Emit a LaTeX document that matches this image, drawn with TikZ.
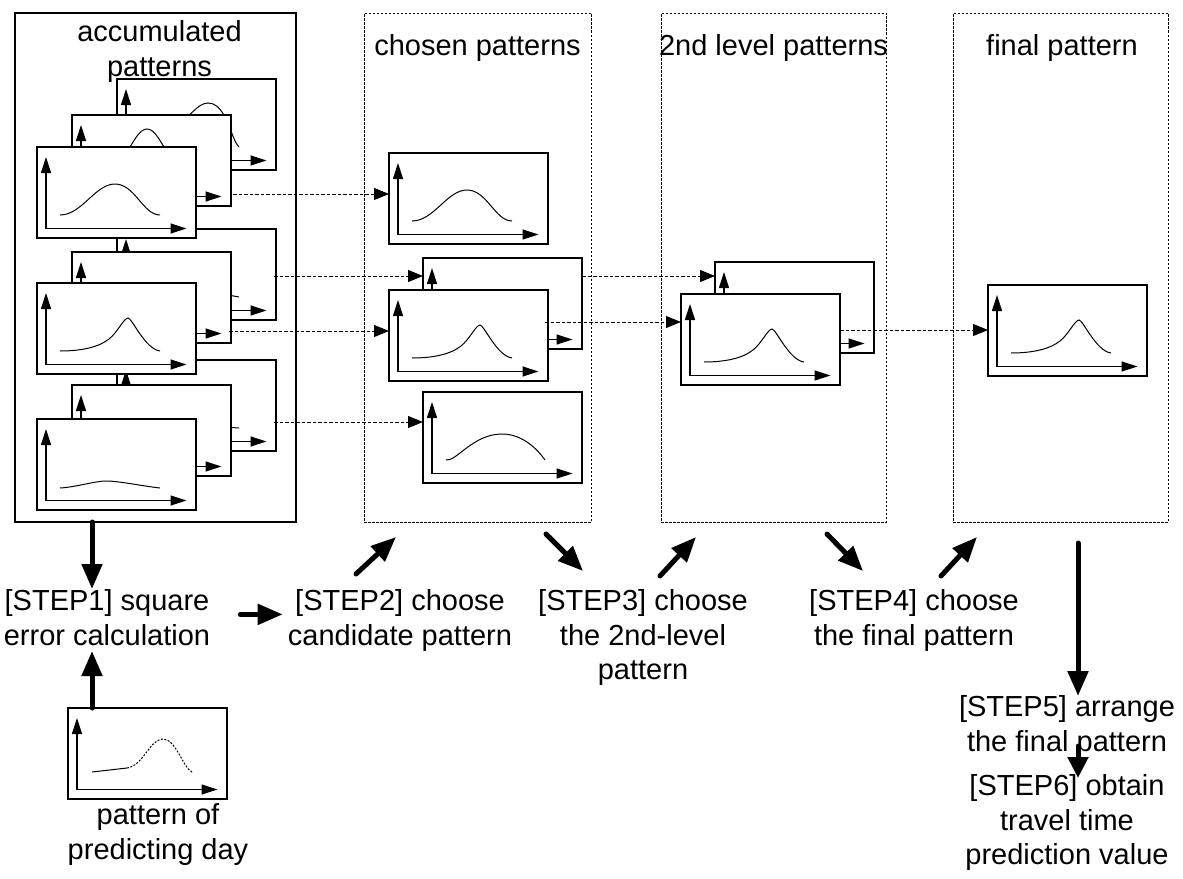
\documentclass[tikz,border=0pt]{standalone}
\usepackage{fontspec}
\setmainfont{Liberation Sans}
\usetikzlibrary{arrows.meta,calc}
\newcommand\gausscurve{\draw[crv] (23,68) .. controls (45,68) and (58,37) .. (78,37) .. controls (98,37) and (106,68) .. (123,68);}
\newcommand\peakcurve{\draw[crv] (23,68) .. controls (45,68) and (62,64) .. (72,56) .. controls (80,50) and (87,35) .. (91,35) .. controls (95,35) and (108,66) .. (123,68);}
\newcommand\flatcurve{\draw[crv] (23,69) .. controls (40,68) and (58,62) .. (69,62) .. controls (82,62) and (105,67) .. (123,69);}
\newcommand\arccurve{\draw[crv] (23,68) .. controls (33,70) and (50,42) .. (79,42) .. controls (100,42) and (115,58) .. (122,68);}
\newcommand\predcurve{\draw[crv] (24,64) -- (59,60); \draw[crv, dash pattern=on 2pt off 1.5pt] (59,60) .. controls (75,58) and (82,31) .. (95,31) .. controls (108,31) and (115,60) .. (124,64);}
\newcommand\pwin[4]{%
  \node[win] (#1) at (#2,#3) {};
  \begin{scope}[shift={(#2,#3)}]
    \draw[ax] (9,81.5) -- (9,10);
    \draw[ax] (9,81.5) -- (149.5,81.5);
    #4
  \end{scope}}
\begin{document}
\begin{tikzpicture}[x=1pt,y=-1pt,
  win/.style={draw, fill=white, line width=1.2pt, minimum width=159pt, minimum height=91pt, inner sep=0pt, outer sep=0pt, anchor=north west},
  ax/.style={line width=1.2pt, -{Triangle[width=10pt,length=16pt]}},
  crv/.style={line width=1pt},
  dconn/.style={line width=1pt, dash pattern=on 3.5pt off 2pt, -{Triangle[width=12pt,length=15pt]}},
  dbox/.style={draw, line width=1pt, dash pattern=on 2.5pt off 1.5pt, minimum height=509pt, inner sep=0pt, outer sep=0pt, anchor=north west},
  big/.style={line width=5pt, line cap=round, -{Triangle[width=20pt,length=25pt]}},
  small/.style={line width=5pt, line cap=round, -{Triangle[width=20pt,length=21pt]}},
  txt/.style={font=\fontsize{29}{34.5}\selectfont, align=center, inner sep=0pt},
]
\useasboundingbox (0,0) rectangle (1183,878);
% frames
\node[draw, line width=1.2pt, minimum width=281pt, minimum height=509pt, inner sep=0pt, outer sep=0pt, anchor=north west] (acc) at (15,13) {};
\node[dbox, minimum width=227pt] (chs) at (364,13) {};
\node[dbox, minimum width=225pt] (lvl) at (661,13) {};
\node[dbox, minimum width=215pt] (fin) at (953,13) {};
% titles (base = baseline of last line)
\node[txt, anchor=base] (tacc) at (159.5,76) {accumulated\\patterns};
\node[txt, anchor=base] (tchs) at (477.5,55) {chosen patterns};
\node[txt, anchor=base] (tlvl) at (773.5,55) {2nd level patterns};
\node[txt, anchor=base] (tfin) at (1062,55) {final pattern};
% accumulated windows
\pwin{G1b}{117}{79}{\draw[crv] (60,45) .. controls (72,40) and (80,24) .. (91,24) .. controls (104,24) and (110,42) .. (114,52) .. controls (117,60) and (119,65) .. (122,68);}
\pwin{G1m}{72}{115}{\draw[crv] (35,55) .. controls (55,50) and (62,14) .. (75,14) .. controls (88,14) and (95,50) .. (115,55);}
\pwin{G2b}{117}{229}{\draw[crv] (60,55) .. controls (80,60) and (100,64) .. (122,68);}
\pwin{G1f}{37}{147}{\gausscurve}
\pwin{G2m}{72}{252}{}
\pwin{G3b}{117}{360}{\draw[crv] (60,62) .. controls (85,64) and (105,67) .. (122,68);}
\pwin{G2f}{37}{283}{\peakcurve}
\pwin{G3m}{72}{385}{}
\pwin{G3f}{37}{419}{\flatcurve}
% chosen
\pwin{CA}{389}{153}{\gausscurve}
\pwin{CBb}{423}{258}{}
\pwin{CBf}{389}{290}{\peakcurve}
\pwin{CC}{423}{392}{\arccurve}
% 2nd level
\pwin{Lb}{715}{262}{}
\pwin{Lf}{681}{294}{\peakcurve}
% final
\pwin{F}{988}{285}{\peakcurve}
% predicting day
\pwin{P}{68}{708}{\predcurve}
% dashed connectors
\coordinate (d1) at ($(G1m.south east)+(2,-12)$);
\draw[dconn] (d1) -- (d1 -| CA.west);
\coordinate (d2) at ($(G2b.north east)+(-2,47)$);
\draw[dconn] (d2) -- (d2 -| CBb.west);
\coordinate (d3) at ($(G2m.south east)+(-2,-12)$);
\draw[dconn] (d3) -- (d3 -| CBf.west);
\coordinate (d4) at ($(G3b.north east)+(-2,62)$);
\draw[dconn] (d4) -- (d4 -| CC.west);
\coordinate (d5) at ($(CBb.north east)+(0,18)$);
\draw[dconn] (d5) -- (d5 -| Lb.west);
\coordinate (d6) at ($(CBf.north east)+(-3,32)$);
\draw[dconn] (d6) -- (d6 -| Lf.west);
\coordinate (d7) at ($(Lf.north east)+(0,36)$);
\draw[dconn] (d7) -- (d7 -| F.west);
% step texts (base = baseline of last line)
\node[txt, anchor=base] (t1) at (107,645) {[STEP1] square\\error calculation};
\node[txt, anchor=base] (t2) at (400,645) {[STEP2] choose\\candidate pattern};
\node[txt, anchor=base] (t3) at (643,679.5) {[STEP3] choose\\the 2nd-level\\pattern};
\node[txt, anchor=base] (t4) at (914,645) {[STEP4] choose\\the final pattern};
\node[txt, anchor=base] (t5) at (1067,751) {[STEP5] arrange\\the final pattern};
\node[txt, anchor=base] (t6) at (1067,864.5) {[STEP6] obtain\\travel time\\prediction value};
\node[txt, anchor=base] (tp) at (158,859) {pattern of\\predicting day};
% thick arrows
\coordinate (b1) at (92,589);
\draw[big] (acc.south -| b1) -- (b1);
\coordinate (b2) at (92,651);
\draw[big] (P.north -| b2) -- (b2);
\coordinate (a3s) at ([xshift=30pt,yshift=3pt]t1.east);
\draw[big] (a3s) -- ([xshift=-5pt]t2.west |- a3s);
\coordinate (b4s) at (356,574); \coordinate (b4e) at (396,537);
\draw[big] (b4s) -- (b4e);
\coordinate (b5s) at (546,534); \coordinate (b5e) at (583,571);
\draw[big] (b5s) -- (b5e);
\coordinate (b6s) at (660,576); \coordinate (b6e) at (696,537);
\draw[big] (b6s) -- (b6e);
\coordinate (b7s) at (827,534); \coordinate (b7e) at (863,571);
\draw[big] (b7s) -- (b7e);
\coordinate (b8s) at (941,576); \coordinate (b8e) at (977,537);
\draw[big] (b8s) -- (b8e);
\coordinate (b9s) at (1078,543); \coordinate (b9e) at (1078,696);
\draw[big] (b9s) -- (b9e);
\coordinate (b10s) at (1078,746); \coordinate (b10e) at (1078,778);
\draw[small] (b10s) -- (b10e);
\end{tikzpicture}
\end{document}
